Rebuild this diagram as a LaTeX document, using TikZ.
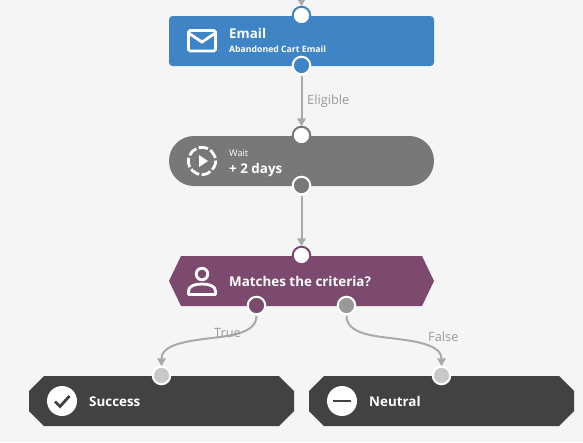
\documentclass[tikz,border=0pt]{standalone}
\usepackage{fontspec}
\setmainfont{Open Sans}
\usetikzlibrary{arrows.meta}
\definecolor{bg}{HTML}{F5F5F5}
\definecolor{mailblue}{HTML}{3F85C6}
\definecolor{waitgray}{HTML}{787878}
\definecolor{plum}{HTML}{7C4A6E}
\definecolor{dark}{HTML}{424242}
\definecolor{wire}{HTML}{AAAAAA}
\definecolor{lab}{HTML}{9A9A9A}
\definecolor{falsefill}{HTML}{999999}
\definecolor{endfill}{HTML}{C8C8C8}
\tikzset{
  x=1pt,y=-1pt,
  port/.style={circle,minimum size=17.5pt,inner sep=0pt,line width=2pt,outer sep=0pt},
  inport/.style={port,draw=#1,fill=white},
  outport/.style={port,draw=white,fill=#1},
  wirepath/.style={draw=wire,line width=2pt,-{Triangle[length=8pt,width=8.5pt]},shorten >=0.5pt,shorten <=1.5pt},
  title/.style={anchor=base west,inner sep=0pt,text=white,font=\bfseries\fontsize{13.4}{16}\selectfont},
  small/.style={anchor=base west,inner sep=0pt,text=white,font=\bfseries\fontsize{8.7}{10}\selectfont},
  tiny/.style={anchor=base west,inner sep=0pt,text=white,font=\fontsize{9.2}{10}\selectfont},
  edgelab/.style={anchor=base west,inner sep=0pt,text=lab,font=\fontsize{12.8}{14}\selectfont},
  iconline/.style={draw=white,line width=2.8pt},
}
\begin{document}
\begin{tikzpicture}
\useasboundingbox (0,0) rectangle (583,442);
\fill[bg] (0,0) rectangle (583,442);
% bodies
\fill[mailblue,rounded corners=3.5pt] (169,16) rectangle (434,66);
\fill[waitgray,rounded corners=24.9pt] (169,136) rectangle (434,186);
\fill[plum] (181,256) -- (422,256) -- (434,281) -- (422,306) -- (181,306) -- (169,281) -- cycle;
\fill[dark] (44,376) -- (279,376) -- (294,391) -- (294,411) -- (279,426) -- (44,426) -- (29,411) -- (29,391) -- cycle;
\fill[dark] (324,376) -- (559,376) -- (574,391) -- (574,411) -- (559,426) -- (324,426) -- (309,411) -- (309,391) -- cycle;
% coordinates
\coordinate (offtop) at (301.5,-6);
\coordinate (tmid) at (208,338.5);
\coordinate (fmid) at (394,338.5);
% ports
\node[inport=mailblue] (p1in) at (301.5,15.5) {};
\node[outport=mailblue] (p1out) at (301.5,65.5) {};
\node[inport=waitgray] (p2in) at (301.5,135.5) {};
\node[outport=waitgray] (p2out) at (301.5,185.5) {};
\node[inport=plum] (p3in) at (301.5,255.5) {};
\node[outport=plum] (p3t) at (256.5,305.5) {};
\node[outport=falsefill] (p3f) at (346.5,305.5) {};
\node[outport=endfill] (p4in) at (161.5,375.5) {};
\node[outport=endfill] (p5in) at (441.5,375.5) {};
% connectors
\draw[wirepath] (offtop) -- (p1in);
\draw[wirepath] (p1out) -- (p2in);
\draw[wirepath] (p2out) -- (p3in);
\draw[wirepath] (p3t.south) .. controls (256.5,334) and (228,336) .. (tmid) .. controls (178,342) and (161.5,347) .. (p4in.north);
\draw[wirepath] (p3f.south) .. controls (346.5,334) and (374,336) .. (fmid) .. controls (424,342) and (441.5,347) .. (p5in.north);
% mail icon
\draw[iconline,rounded corners=1.5pt] (188.5,30.5) rectangle (215.5,51);
\draw[iconline,line join=miter] (188.5,33) -- (202,42) -- (215.5,33);
% wait icon
\draw[draw=white,line width=2.8pt,dash pattern=on 9.5pt off 2.6pt] (202,161) circle[radius=13.6];
\fill[white] (199,155) -- (208,161) -- (199,167) -- cycle;
% person icon
\draw[iconline] (202,274) circle[radius=5.8];
\draw[iconline,line join=round] (188.5,294.5) -- (188.5,291) .. controls (188.5,286) and (195,284) .. (202,284) .. controls (209,284) and (215.5,286) .. (215.5,291) -- (215.5,294.5) -- cycle;
% end icons
\fill[white] (62,401) circle[radius=15];
\draw[dark,line width=2.8pt,line join=miter] (55,401.5) -- (60,406.5) -- (69.5,396);
\fill[white] (342,401) circle[radius=15];
\draw[dark,line width=2.8pt] (333,401) -- (351,401);
% text
\node[title] (t1) at (229,38) {Email};
\node[small] (t1b) at (229,52.5) {Abandoned Cart Email};
\node[tiny] (t2a) at (229,156) {Wait};
\node[title] (t2) at (229,173) {+ 2 days};
\node[title] (t3) at (229,286) {Matches the criteria?};
\node[title] (t4) at (89,406) {Success};
\node[title] (t5) at (369,406) {Neutral};
\node[edgelab] (l1) at (307,104) {Eligible};
\node[edgelab] (l2) at (214,337) {True};
\node[edgelab] (l3) at (428,341) {False};
\end{tikzpicture}
\end{document}
